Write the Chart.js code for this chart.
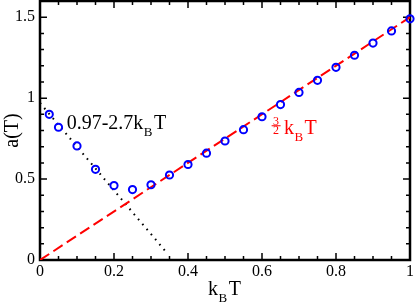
<!doctype html>
<html>
<head>
<meta charset="utf-8">
<script src="https://cdn.jsdelivr.net/npm/chart.js"></script>
<style>
html, body { margin: 0; padding: 0; background: #fff; }
#wrap { width: 415px; height: 303px; }
</style>
</head>
<body>
<div id="wrap"><canvas id="myChart" width="415" height="303"></canvas></div>
<script>
	var tempX = [0.025, 0.05, 0.1, 0.15, 0.2, 0.25, 0.3, 0.35, 0.4, 0.45, 0.5,
		0.55, 0.6, 0.65, 0.7, 0.75, 0.8, 0.85, 0.9, 0.95, 1.0];
	var aValues = [0.90, 0.82, 0.705, 0.56, 0.46, 0.435, 0.465, 0.525, 0.59, 0.66, 0.735,
		0.805, 0.885, 0.96, 1.035, 1.11, 1.19, 1.265, 1.34, 1.415, 1.49];

	// 3/2 kT line end points
	var highX = [0, 1];
	var highY = [0, 1.5];

	// 0.97 - 2.7 kT line end points
	var lowX = [0, 0.34];
	var lowY = [0.97, 0.052];

	var xTicks = ['0', '0.2', '0.4', '0.6', '0.8', '1'];
	var yTicks = ['0', '0.5', '1', '1.5'];

	function toPoints(xs, ys) {
		return xs.map(function (v, i) { return {x: v, y: ys[i]}; });
	}

	var serif = "'Liberation Serif', 'DejaVu Serif', serif";

	// text with a subscript, drawn piece by piece
	function drawRich(ctx, parts, x, y) {
		parts.forEach(function (p) {
			ctx.font = p[1] + 'px ' + serif;
			ctx.fillText(p[0], x, y + p[2]);
			x += ctx.measureText(p[0]).width + (p[3] || 0);
		});
		return x;
	}

	var framePlugin = {
		id: 'frame',
		beforeDatasetsDraw: function (chart) {
			var ctx = chart.ctx, a = chart.chartArea;
			var xs = chart.scales.x, ys = chart.scales.y;
			ctx.save();
			ctx.strokeStyle = '#000';
			ctx.lineWidth = 1.5;
			ctx.beginPath();
			for (var i = 0; i <= 20; i++) {
				var px = xs.getPixelForValue(i * 0.05);
				var len = (i % 4 === 0) ? 7 : 4;
				ctx.moveTo(px, a.bottom); ctx.lineTo(px, a.bottom - len);
				ctx.moveTo(px, a.top); ctx.lineTo(px, a.top + len);
			}
			for (var j = 0; j <= 16; j++) {
				var py = ys.getPixelForValue(j * 0.1);
				var l2 = (j % 5 === 0) ? 7 : 4;
				ctx.moveTo(a.left, py); ctx.lineTo(a.left + l2, py);
				ctx.moveTo(a.right, py); ctx.lineTo(a.right - l2, py);
			}
			ctx.stroke();
			ctx.lineWidth = 2.5;
			ctx.strokeRect(a.left, a.top, a.right - a.left, a.bottom - a.top);
			ctx.restore();
		},
		afterDraw: function (chart) {
			var ctx = chart.ctx, a = chart.chartArea;
			var xs = chart.scales.x, ys = chart.scales.y;
			ctx.save();
			ctx.textBaseline = 'alphabetic';
			ctx.textAlign = 'left';

			// fit label, low temperature
			ctx.fillStyle = '#000';
			drawRich(ctx, [['0.97-2.7k', 20, 0, 0.5], ['B', 13, 7, 1.5], ['T', 20, 0]],
				xs.getPixelForValue(0.072), ys.getPixelForValue(0.807));

			// fit label, high temperature: 3/2 kT
			ctx.fillStyle = '#ff0000';
			ctx.strokeStyle = '#ff0000';
			var fx = xs.getPixelForValue(0.626), fy = ys.getPixelForValue(0.778);
			ctx.font = '12px ' + serif;
			ctx.textAlign = 'center';
			ctx.fillText('3', fx + 4.5, fy - 9.5);
			ctx.fillText('2', fx + 4.5, fy);
			ctx.lineWidth = 1;
			ctx.beginPath();
			ctx.moveTo(fx, fy - 8.3); ctx.lineTo(fx + 9, fy - 8.3);
			ctx.stroke();
			ctx.textAlign = 'left';
			drawRich(ctx, [['k', 20, 0, 0.5], ['B', 13, 7, 1.5], ['T', 20, 0]], fx + 12.3, fy);

			// axis titles
			ctx.fillStyle = '#000';
			drawRich(ctx, [['k', 20, 0, 0.5], ['B', 13, 7, 1.5], ['T', 20, 0]], 208, 295);

			ctx.translate(18, (a.top + a.bottom) / 2);
			ctx.rotate(-Math.PI / 2);
			ctx.textAlign = 'center';
			ctx.font = '20px ' + serif;
			ctx.fillText('a(T)', 0, 0);
			ctx.restore();
		}
	};

	var chart = new Chart(document.getElementById('myChart'), {
		type: 'scatter',
		data: {
			datasets: [
				{
					label: 'a(T)',
					data: toPoints(tempX, aValues),
					borderColor: '#0000ff',
					backgroundColor: 'rgba(0,0,0,0)',
					pointRadius: 3.6,
					pointBorderWidth: 2,
					showLine: false,
					clip: false
				},
				{
					label: '3/2 kT',
					data: toPoints(highX, highY),
					borderColor: '#ff0000',
					borderWidth: 2,
					borderDash: [11, 5],
					pointRadius: 0,
					showLine: true
				},
				{
					label: '0.97-2.7kT',
					data: toPoints(lowX, lowY),
					borderColor: '#000',
					borderWidth: 2,
					borderDash: [1.6, 5],
					pointRadius: 0,
					showLine: true
				}
			]
		},
		options: {
			responsive: false,
			animation: false,
			events: [],
			layout: { autoPadding: false, padding: { left: 0, right: 5, top: 1, bottom: 0 } },
			plugins: { legend: { display: false }, tooltip: { enabled: false } },
			scales: {
				x: {
					type: 'linear',
					min: 0,
					max: 1,
					grid: { display: false, drawTicks: false, tickLength: 0 },
					border: { display: false },
					afterFit: function (s) {
						s.height = 43;
						s.paddingLeft = 0;
						s.paddingRight = 0;
					},
					ticks: {
						stepSize: 0.2,
						maxRotation: 0,
						padding: 2,
						color: '#000',
						font: { family: serif, size: 16 },
						callback: function (v, i) { return xTicks[i]; }
					}
				},
				y: {
					type: 'linear',
					min: 0,
					max: 1.6,
					grid: { display: false, drawTicks: false, tickLength: 0 },
					border: { display: false },
					afterFit: function (s) {
						s.width = 40;
						s.paddingTop = 0;
						s.paddingBottom = 0;
					},
					ticks: {
						stepSize: 0.5,
						includeBounds: false,
						padding: 5,
						color: '#000',
						font: { family: serif, size: 16 },
						callback: function (v, i) { return yTicks[i]; }
					}
				}
			}
		},
		plugins: [framePlugin]
	});
</script>
</body>
</html>
